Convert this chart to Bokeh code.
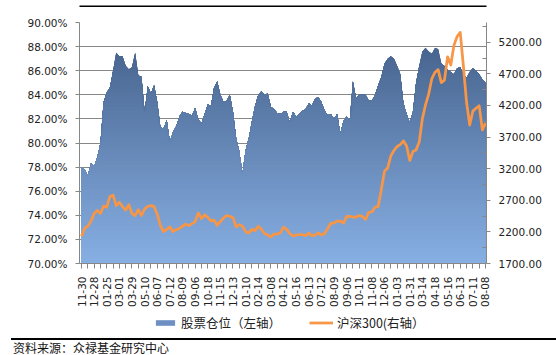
import math
import numpy as np
from bokeh.plotting import figure
from bokeh.layouts import column
from bokeh.models import (Range1d, LinearAxis, FixedTicker, PrintfTickFormatter,
                          Legend, LegendItem, Div, BoxAnnotation)
from bokeh.embed import file_html
from bokeh.resources import INLINE

date_labels = ["11-30", "12-28", "01-25", "03-01", "03-29", "05-10", "06-07", "07-12",
               "08-09", "09-06", "10-18", "11-15", "12-13", "01-10", "02-14", "03-08",
               "04-12", "05-16", "06-13", "07-12", "08-09", "09-06", "10-11", "11-08",
               "12-06", "01-03", "01-31", "03-14", "04-18", "05-16", "06-13", "07-11", "08-08"]

position = [78.0, 77.8, 77.3, 78.3, 78.1, 78.8, 80.0, 83.4, 84.2, 84.6,
            86.0, 87.5, 87.2, 87.2, 86.4, 86.1, 86.3, 87.5, 85.6, 85.5,
            82.6, 84.7, 84.1, 84.8, 83.4, 81.3, 81.2, 81.9, 80.1, 80.9,
            81.4, 82.2, 82.6, 82.5, 82.4, 82.3, 82.9, 82.0, 81.6, 82.4,
            83.2, 83.1, 84.6, 85.1, 84.0, 83.4, 83.5, 84.0, 82.6, 80.4,
            79.3, 77.5, 79.4, 80.4, 81.8, 83.1, 84.0, 84.3, 84.0, 84.1,
            83.0, 82.8, 82.5, 82.4, 82.6, 82.6, 81.7, 82.6, 82.2, 82.4,
            82.7, 82.8, 83.3, 83.1, 83.7, 83.8, 83.4, 82.7, 82.3, 82.4,
            82.0, 82.4, 80.8, 81.8, 82.2, 81.9, 85.1, 83.7, 84.0, 84.0,
            84.0, 83.5, 83.5, 84.0, 84.8, 85.5, 86.6, 87.0, 87.2, 87.0,
            86.4, 85.7, 83.3, 82.4, 81.7, 82.6, 85.0, 86.4, 87.6, 87.9,
            87.6, 87.4, 87.9, 87.8, 86.6, 86.4, 86.1, 85.9, 85.7, 86.2,
            86.3, 85.7, 85.4, 85.9, 86.2, 86.0, 85.7, 85.3, 85.0]

hs300 = [2130, 2255, 2290, 2370, 2490, 2540, 2490, 2610, 2590, 2760,
         2780, 2615, 2670, 2600, 2545, 2630, 2490, 2460, 2550, 2460,
         2560, 2605, 2615, 2600, 2480, 2300, 2205, 2240, 2280, 2205,
         2235, 2255, 2290, 2320, 2300, 2330, 2360, 2500, 2410, 2470,
         2430, 2375, 2385, 2305, 2365, 2420, 2460, 2445, 2425, 2280,
         2315, 2290, 2205, 2180, 2240, 2220, 2290, 2240, 2175, 2150,
         2120, 2165, 2165, 2185, 2275, 2240, 2175, 2135, 2150, 2158,
         2155, 2140, 2180, 2140, 2150, 2185, 2150, 2175, 2250, 2340,
         2340, 2370, 2372, 2340, 2445, 2445, 2435, 2435, 2460, 2445,
         2395, 2510, 2515, 2590, 2600, 2870, 3160, 3210, 3400, 3490,
         3550, 3580, 3640, 3560, 3330, 3470, 3495, 3620, 3990, 4210,
         4380, 4625, 4725, 4767, 4560, 4600, 4970, 4840, 5150, 5290,
         5355, 4820, 4250, 3890, 4110, 4155, 4195, 3815, 3920]

legend_labels = ["股票仓位（左轴）", "沪深300(右轴）"]
source_text = "资料来源：众禄基金研究中心"

n = len(position)
xs = list(range(n))

W = 556
grey = "#878787"
txt = "#222222"
tick_font = "DejaVu Sans"
cjk = "Noto Sans CJK SC"
area_color = "#6d8fc2"
line_color = "#F79646"


def strip(height):
    f = figure(width=W, height=height, output_backend="svg", toolbar_location=None,
               x_range=Range1d(0, 1), y_range=Range1d(0, 1),
               min_border_left=79, min_border_right=70, min_border_top=0, min_border_bottom=0)
    f.axis.visible = False
    f.grid.visible = False
    f.outline_line_color = None
    f.background_fill_color = "white"
    f.border_fill_color = "white"
    return f


# ---- top strip with rule ----
top = strip(8)
top.add_layout(BoxAnnotation(left=11, right=W, top=1, bottom=2.5,
                             left_units="canvas", right_units="canvas",
                             top_units="canvas", bottom_units="canvas",
                             fill_color="black", fill_alpha=1, line_color=None))

# ---- main chart ----
p = figure(width=W, height=302, output_backend="svg", toolbar_location=None,
           x_range=Range1d(-0.634, 128.32), y_range=Range1d(70, 90),
           min_border_left=79, min_border_right=70, min_border_top=14, min_border_bottom=45)
p.outline_line_color = None
p.background_fill_color = "white"
p.border_fill_color = "white"
p.extra_y_ranges = {"hs": Range1d(1700, 5512)}

top_c = np.array([72, 101, 143])
bot_c = np.array([136, 176, 229])
pos = np.array(position)
levels = np.arange(88.4, 70.0, -0.3)
for lv in levels:
    t = min(max((lv - 70.0) / 18.0, 0.0), 1.0)
    c = bot_c + (top_c - bot_c) * t
    col = "#%02x%02x%02x" % tuple(int(round(v)) for v in c)
    p.varea(x=xs, y1=np.full(n, 70.0), y2=np.minimum(pos, lv), fill_color=col)

p.line(xs, hs300, y_range_name="hs", line_color=line_color, line_width=2.75,
       line_join="round")

xa = p.xaxis[0]
xa.ticker = FixedTicker(ticks=list(range(0, n, 4)), minor_ticks=list(range(2, n, 4)))
xa.major_label_overrides = {i * 4: lab for i, lab in enumerate(date_labels)}
xa.major_label_orientation = math.pi / 2
xa.major_tick_out = 5
xa.major_tick_in = 0
xa.minor_tick_out = 5
xa.minor_tick_in = 0
xa.axis_line_color = grey
xa.major_tick_line_color = grey
xa.minor_tick_line_color = grey
xa.major_label_standoff = 8
xa.major_label_text_font = tick_font
xa.major_label_text_font_size = "10.5px"
xa.major_label_text_color = txt

ya = p.yaxis[0]
ya.ticker = FixedTicker(ticks=list(range(70, 91, 2)))
ya.formatter = PrintfTickFormatter(format="%.2f%%")
ya.major_tick_out = 4
ya.major_tick_in = 0
ya.minor_tick_line_color = None
ya.axis_line_color = grey
ya.major_tick_line_color = grey
ya.major_label_standoff = 8
ya.major_label_text_font = tick_font
ya.major_label_text_font_size = "10.5px"
ya.major_label_text_color = txt

ra = LinearAxis(y_range_name="hs",
                ticker=FixedTicker(ticks=list(range(1700, 5201, 500)),
                                   minor_ticks=list(range(1950, 5451, 500))),
                formatter=PrintfTickFormatter(format="%.2f"))
ra.major_tick_out = 4
ra.major_tick_in = 0
ra.minor_tick_out = 0
ra.minor_tick_in = 4
ra.axis_line_color = grey
ra.major_tick_line_color = grey
ra.minor_tick_line_color = grey
ra.major_label_standoff = 8
ra.major_label_text_font = tick_font
ra.major_label_text_font_size = "10.5px"
ra.major_label_text_color = txt
p.add_layout(ra, "right")

p.xgrid.visible = False
p.ygrid.ticker = FixedTicker(ticks=list(range(70, 91, 2)))
p.ygrid.grid_line_color = grey
p.ygrid.grid_line_width = 1

# ---- legend strip (frame aligned with main chart frame) ----
leg = strip(24)
# swatch renderers kept outside the visible range; they only feed the legend
leg_area = leg.varea(x=[-5, -4], y1=[-5, -5], y2=[-4, -4], fill_color=area_color)
leg_line = leg.line(x=[-5, -4], y=[-5, -5], line_color=line_color, line_width=2.75)
legend = Legend(items=[LegendItem(label=legend_labels[0], renderers=[leg_area]),
                       LegendItem(label=legend_labels[1], renderers=[leg_line])],
                orientation="horizontal", location=(74, 2),
                glyph_width=24, glyph_height=7, label_height=14, label_standoff=4,
                spacing=28, padding=0, margin=0, border_line_color=None,
                background_fill_alpha=0, label_text_font=cjk,
                label_text_font_size="12.5px", label_text_color=txt)
leg.add_layout(legend, "center")

# ---- bottom rule + source ----
bot_div = Div(width=W, height=21, margin=0,
              text='<div style="position:absolute;left:11px;top:4px;width:545px;'
                   'height:1.5px;background:#000;"></div>'
                   '<div style="position:absolute;left:13px;top:8px;white-space:nowrap;'
                   'font-family:\'Noto Sans CJK SC\';font-size:12px;line-height:12px;'
                   'color:#111;">' + source_text + '</div>',
              styles={"position": "relative", "overflow": "visible"})

layout = column(top, p, leg, bot_div, spacing=0)
open("out.html", "w").write(file_html(layout, INLINE))
